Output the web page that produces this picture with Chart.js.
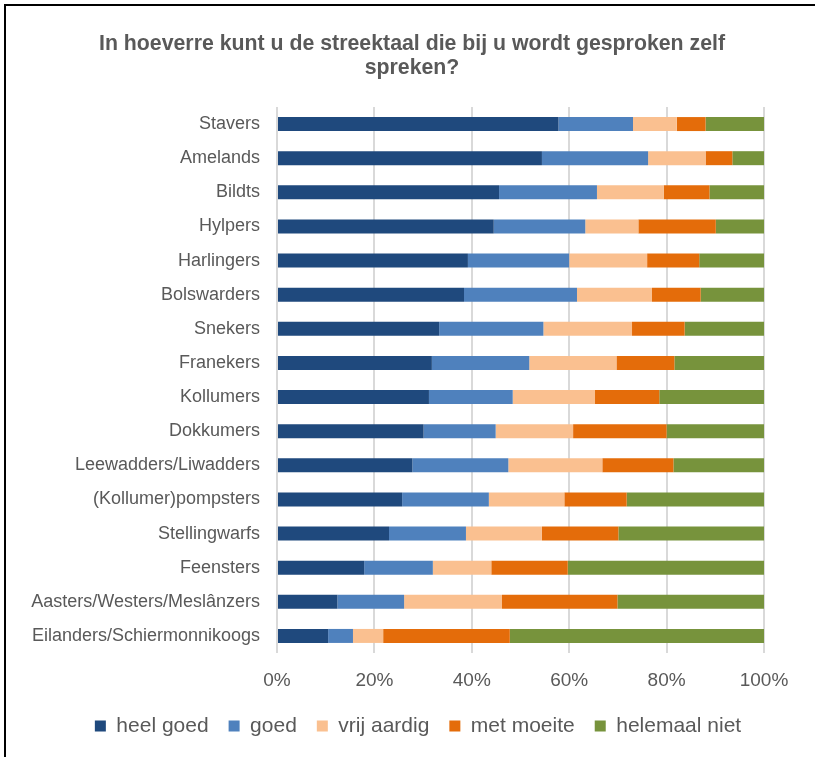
<!DOCTYPE html>
<html>
<head>
<meta charset="utf-8">
<script src="https://cdn.jsdelivr.net/npm/chart.js@4/dist/chart.umd.min.js"></script>
<style>
    html, body { margin: 0; padding: 0; background: #fff; }
    #wrap { position: absolute; left: 0; top: 0; width: 815px; height: 757px; }
    #frame {
        position: absolute; left: 4px; top: 4px; right: -10px; bottom: -10px;
        border-left: 2px solid #000; border-top: 2px solid #000;
        pointer-events: none;
    }
</style>
</head>
<body>
<div id="wrap">
    <canvas id="chart"></canvas>
    <div id="frame"></div>
</div>
<script>
// Streektaal survey - share of answers per dialect (percent)
const categories = [
    'Stavers', 'Amelands', 'Bildts', 'Hylpers', 'Harlingers', 'Bolswarders',
    'Snekers', 'Franekers', 'Kollumers', 'Dokkumers', 'Leewadders/Liwadders',
    '(Kollumer)pompsters', 'Stellingwarfs', 'Feensters',
    'Aasters/Westers/Meslânzers', 'Eilanders/Schiermonnikoogs'
];
const heelGoed     = [57.8, 54.4, 45.6, 44.5, 39.2, 38.4, 33.3, 31.8, 31.2, 30.1, 27.8, 25.7, 23.0, 17.9, 12.4, 10.5];
const goed         = [15.3, 21.8, 20.1, 18.8, 20.8, 23.2, 21.4, 20.0, 17.2, 14.8, 19.7, 17.8, 15.8, 14.1, 13.7, 5.1];
const vrijAardig   = [9.0, 11.8, 13.7, 10.9, 16.0, 15.4, 18.2, 17.9, 16.9, 15.9, 19.3, 15.5, 15.6, 12.0, 20.1, 6.2];
const metMoeite    = [5.9, 5.5, 9.4, 15.9, 10.7, 10.0, 10.8, 11.9, 13.2, 19.2, 14.6, 12.8, 15.7, 15.7, 23.7, 26.0];
const helemaalNiet = [12.0, 6.5, 11.2, 9.9, 13.3, 13.0, 16.3, 18.4, 21.5, 20.0, 18.6, 28.2, 29.9, 40.3, 30.1, 52.2];
const tickValues   = [0, 20, 40, 60, 80, 100];

const seriesLabels = ['heel goed', 'goed', 'vrij aardig', 'met moeite', 'helemaal niet'];
const seriesData = [heelGoed, goed, vrijAardig, metMoeite, helemaalNiet];
const seriesColors = ['#1F497D', '#4F81BD', '#FAC090', '#E46C0A', '#77933C'];

const textColor = '#595959';
const fontFamily = '"Liberation Sans", Arial, sans-serif';

// title and legend are centred on the whole frame, not just the plot width
const recentre = {
    id: 'recentre',
    afterLayout(chart) {
        chart.titleBlock.left = 0;
        chart.titleBlock.right = 824;
        chart.legend.left = 0;
        chart.legend.right = 836;
    }
};

new Chart(document.getElementById('chart').getContext('2d'), {
    type: 'bar',
    data: {
        labels: categories,
        datasets: seriesData.map((d, i) => ({
            label: seriesLabels[i],
            data: d,
            backgroundColor: seriesColors[i],
            borderWidth: 0,
            categoryPercentage: 1,
            barPercentage: 0.41
        }))
    },
    options: {
        indexAxis: 'y',
        responsive: true,
        maintainAspectRatio: false,
        animation: false,
        layout: { padding: { left: 0, right: 51, top: 0, bottom: 10.5 } },
        plugins: {
            title: {
                display: true,
                text: ['In hoeverre kunt u de streektaal die bij u wordt gesproken zelf', 'spreken?'],
                color: textColor,
                font: { family: fontFamily, size: 21.3, weight: 'bold', lineHeight: '24px' },
                padding: { top: 32, bottom: 27 }
            },
            legend: {
                position: 'bottom',
                labels: {
                    color: textColor,
                    font: { family: fontFamily, size: 21 },
                    boxWidth: 11,
                    boxHeight: 11,
                    padding: 20
                }
            },
            tooltip: { enabled: false }
        },
        scales: {
            x: {
                stacked: true,
                min: 0,
                max: 100,
                afterBuildTicks: (scale) => {
                    scale.ticks = tickValues.map(v => ({ value: v }));
                },
                afterFit: (scale) => { scale.height = 42.5; },
                ticks: {
                    color: textColor,
                    font: { family: fontFamily, size: 19 },
                    padding: 16,
                    callback: (v) => v + '%'
                },
                grid: { color: '#D9D9D9', lineWidth: 2, drawTicks: false },
                border: { display: false }
            },
            y: {
                stacked: true,
                afterFit: (scale) => { scale.width = 277; },
                ticks: {
                    color: textColor,
                    font: { family: fontFamily, size: 18 },
                    padding: 17
                },
                grid: { display: false, drawTicks: false },
                border: { display: false }
            }
        }
    },
    plugins: [recentre]
});
</script>
</body>
</html>
